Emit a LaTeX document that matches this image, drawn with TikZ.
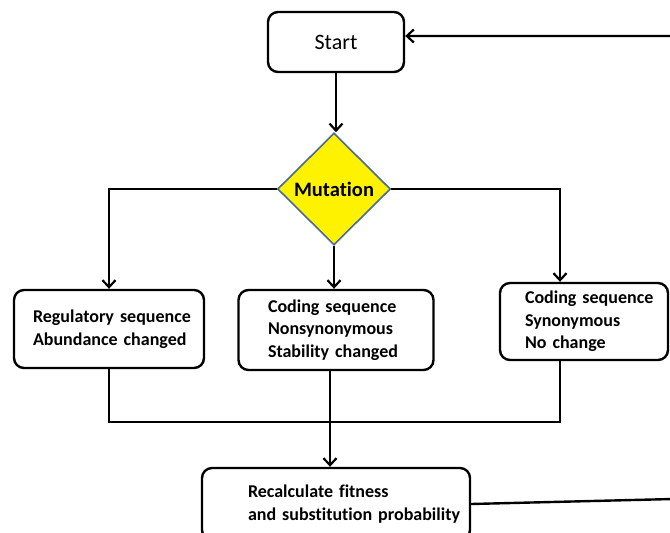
\documentclass[tikz,border=0pt]{standalone}
\usepackage{fontspec}
\setmainfont[Ligatures={NoCommon}]{Carlito}
\usetikzlibrary{shapes.geometric,arrows.meta,calc}
\definecolor{diamondedge}{HTML}{4A6A96}
\tikzset{
  box/.style={draw, line width=2.4pt, rounded corners=10pt, align=left, inner sep=0pt,
    font=\bfseries\fontsize{18}{22.5}\selectfont},
  conn/.style={line width=2.4pt},
  arr/.style={conn, -{Straight Barb[length=7pt,width=13pt,line width=2.2pt]}},
}
\begin{document}
\begin{tikzpicture}[x=1pt,y=-1pt]
\useasboundingbox (0,0) rectangle (670,533);
\node[draw, line width=2.4pt, rounded corners=10pt, minimum width=136pt, minimum height=60pt,
  font=\fontsize{22}{24}\selectfont] (start) at (336,42) {Start};
\node[diamond, aspect=1, draw=diamondedge, line width=1.6pt, fill=yellow, inner sep=0pt,
  minimum width=113pt, minimum height=112pt, font=\bfseries\fontsize{20.5}{22}\selectfont]
  (mut) at (334,189) {Mutation};
\node[box, minimum width=190pt, minimum height=78pt, text width=152pt] (box1) at (109,329)
  {\mbox{Regulatory sequence}\\\mbox{Abundance changed}};
\node[box, minimum width=195pt, minimum height=80pt, text width=136pt] (box2) at (336,330)
  {\mbox{Coding sequence}\\\mbox{Nonsynonymous}\\\mbox{Stability changed}};
\node[box, minimum width=168pt, minimum height=77pt, text width=118pt] (box3) at (584,321.5)
  {\mbox{Coding sequence}\\\mbox{Synonymous}\\\mbox{No change}};
\node[box, minimum width=268pt, minimum height=72pt, text width=176pt] (recalc) at (336,504)
  {\mbox{Recalculate fitness}\\\mbox{and substitution probability}};
\coordinate (join) at (330,422);
\draw[arr] (start) -- (start |- mut.north);
\draw[arr] (mut.west) -| (box1.north);
\draw[arr] (mut.east) -| ([xshift=-24pt]box3.north);
\draw[arr] (mut.south) -- (mut.south |- box2.north);
\draw[conn] (box1.south) |- (join) -| ([xshift=-24pt]box3.south);
\draw[arr] ([xshift=-6pt]box2.south) -- ([xshift=-6pt]box2.south |- recalc.north);
\draw[arr] (recalc.east) -- (673,499) -- (673,36) -- ([yshift=6pt]start.east);
\end{tikzpicture}
\end{document}
